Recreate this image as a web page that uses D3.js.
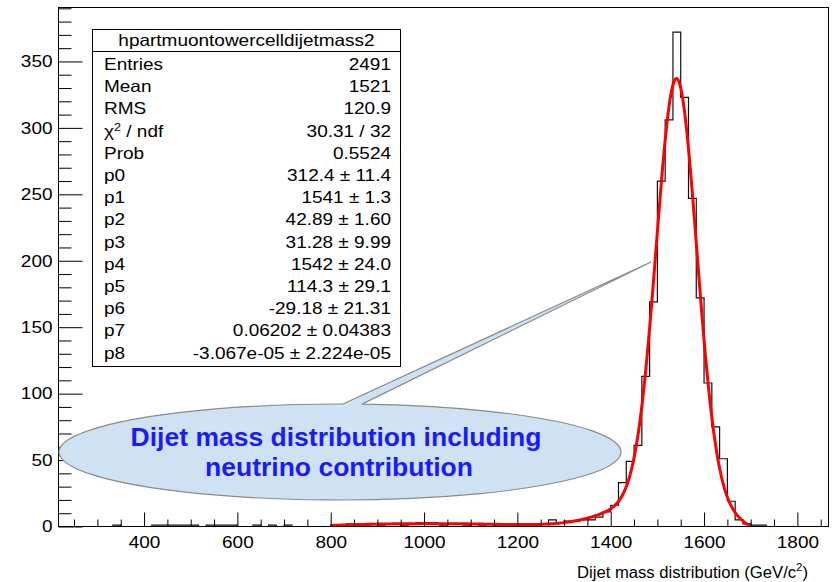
<!DOCTYPE html>
<html>
<head>
<meta charset="utf-8">
<script src="https://cdn.jsdelivr.net/npm/d3@7"></script>
<style>
  body { margin: 0; background: #fff; }
  svg { display: block; font-family: "Liberation Sans", Arial, Helvetica, sans-serif; }
</style>
</head>
<body>
<svg id="chart" width="836" height="582"></svg>
<script>
// ---- Histogram: 120 bins over 0–2000 GeV/c², bins 13..111 shown ----
const binWidth = 2000 / 120;
const firstBin = 13;
const lastEdgeBin = 112;
const counts = [
  0, 0, 0, 0, 0, 0, 0, 1, 0, 0, 0, 0,          // 216.7 – 416.7
  1, 1, 1, 1, 1, 1, 0, 1, 1, 1, 1, 0, 0,       // 416.7 – 633.3
  1, 0, 1, 0, 1, 0, 0, 0, 0, 0,                // 633.3 – 800
  1, 0, 2, 1, 1, 2, 1, 2, 2, 1, 2, 3, 2, 2,    // 800 – 1033.3
  1, 2, 2, 1, 2, 1, 2, 1, 0, 1, 2, 0, 0, 0,    // 1033.3 – 1266.7
  5, 3, 4, 4, 5, 5, 7, 11, 16, 33, 49, 61,     // 1266.7 – 1466.7
  113, 169, 260, 306, 372, 323, 247, 172,      // 1466.7 – 1600
  108, 75, 51, 19, 5, 2, 1, 1,                 // 1600 – 1733.3
  0, 0, 0, 0, 0, 0, 0, 0                       // 1733.3 – 1866.7
];
const yMax = 390.6;

// Fit: gaus(p0,p1,p2) + gaus(p3,p4,p5) + pol2(p6,p7,p8)
const fitParams = [312.4, 1541, 42.89, 31.28, 1542, 114.3, -29.18, 0.06202, -3.067e-05];
const fitRange = [800, 1700];

// Axis ticks
const xMajorTicks = [400, 600, 800, 1000, 1200, 1400, 1600, 1800];
const xMinorTicks = [250, 300, 350, 450, 500, 550, 650, 700, 750, 850, 900, 950,
                     1050, 1100, 1150, 1250, 1300, 1350, 1450, 1500, 1550, 1650, 1700, 1750, 1850];
const yMajorTicks = [0, 50, 100, 150, 200, 250, 300, 350];
const yMinorTicks = d3.range(10, 391, 10).filter(v => v % 50 !== 0);

// Statistics box
const statsTitle = "hpartmuontowercelldijetmass2";
const statsLabels = ["Entries", "Mean", "RMS", "χ2 / ndf", "Prob", "p0", "p1", "p2", "p3", "p4", "p5", "p6", "p7", "p8"];
const statsValues = ["2491", "1521", "120.9", "30.31 / 32", "0.5524",
  "312.4 ± 11.4", "1541 ± 1.3", "42.89 ± 1.60", "31.28 ± 9.99", "1542 ± 24.0",
  "114.3 ± 29.1", "-29.18 ± 21.31", "0.06202 ± 0.04383", "-3.067e-05 ± 2.224e-05"];

const xTitle = "Dijet mass distribution (GeV/c";
const calloutLines = ["Dijet mass distribution including", "neutrino contribution"];

// ---- Layout ----
const frame = { left: 58.5, right: 828.5, top: 7.5, bottom: 526.5 };
const svg = d3.select("#chart");

const x = d3.scaleLinear().domain([firstBin * binWidth, lastEdgeBin * binWidth]).range([frame.left, frame.right]);
const y = d3.scaleLinear().domain([0, yMax]).range([frame.bottom, frame.top]);

const rootStretch = 1.15;
function stretch(sel, k) {
  sel.each(function () {
    const w = this.getComputedTextLength();
    this.setAttribute("textLength", w * k);
    this.setAttribute("lengthAdjust", "spacingAndGlyphs");
  });
}

svg.append("defs").append("clipPath").attr("id", "frameClip")
  .append("rect")
  .attr("x", frame.left).attr("y", frame.top)
  .attr("width", frame.right - frame.left).attr("height", frame.bottom - frame.top);

// Histogram outline
const histPts = [];
counts.forEach((c, i) => {
  const lo = (firstBin + i) * binWidth, hi = lo + binWidth;
  histPts.push([lo, c], [hi, c]);
});
svg.append("path")
  .attr("clip-path", "url(#frameClip)")
  .attr("d", d3.line().x(d => x(d[0])).y(d => y(d[1]))(histPts))
  .attr("fill", "none").attr("stroke", "#111").attr("stroke-width", 1.2);

// Fit curve
function fitFn(v) {
  const p = fitParams;
  const g1 = p[0] * Math.exp(-0.5 * Math.pow((v - p[1]) / p[2], 2));
  const g2 = p[3] * Math.exp(-0.5 * Math.pow((v - p[4]) / p[5], 2));
  return g1 + g2 + p[6] + p[7] * v + p[8] * v * v;
}
const nFit = 300;
const fitPts = d3.range(nFit + 1).map(i => {
  const v = fitRange[0] + (fitRange[1] - fitRange[0]) * i / nFit;
  return [v, fitFn(v)];
});
svg.append("path")
  .attr("clip-path", "url(#frameClip)")
  .attr("d", d3.line().x(d => x(d[0])).y(d => y(d[1])).curve(d3.curveLinear)(fitPts))
  .attr("fill", "none").attr("stroke", "#ff0000").attr("stroke-width", 3)
  .attr("stroke-linejoin", "round");

// Frame
svg.append("rect")
  .attr("x", frame.left).attr("y", frame.top)
  .attr("width", frame.right - frame.left).attr("height", frame.bottom - frame.top)
  .attr("fill", "none").attr("stroke", "#000").attr("stroke-width", 1);

// Axes (ticks inside the frame)
const axisFont = 16.5;
const gx = svg.append("g").attr("transform", `translate(0,${frame.bottom})`)
  .call(d3.axisBottom(x).tickValues(xMajorTicks).tickSize(-14).tickSizeOuter(0).tickPadding(10).tickFormat(d3.format("d")));
svg.append("g").attr("transform", `translate(0,${frame.bottom})`)
  .call(d3.axisBottom(x).tickValues(xMinorTicks).tickSize(-7).tickSizeOuter(0).tickFormat(""));
const gy = svg.append("g").attr("transform", `translate(${frame.left},0)`)
  .call(d3.axisLeft(y).tickValues(yMajorTicks).tickSize(-24).tickSizeOuter(0).tickPadding(6).tickFormat(d3.format("d")));
svg.append("g").attr("transform", `translate(${frame.left},0)`)
  .call(d3.axisLeft(y).tickValues(yMinorTicks).tickSize(-13).tickSizeOuter(0).tickFormat(""));

svg.selectAll(".domain").remove();
svg.selectAll(".tick line").attr("stroke", "#000").attr("stroke-width", 1);
svg.selectAll(".tick text")
  .attr("font-family", "Liberation Sans, Arial, sans-serif")
  .attr("font-size", axisFont).attr("fill", "#000");
stretch(gx.selectAll(".tick text"), rootStretch);
stretch(gy.selectAll(".tick text"), rootStretch);

// X axis title (right aligned at the axis end)
const xt = svg.append("text")
  .attr("x", 808).attr("y", 578)
  .attr("text-anchor", "end")
  .attr("font-size", 16).attr("fill", "#000");
xt.append("tspan").text(xTitle);
xt.append("tspan").attr("font-size", 11).attr("dy", -7).text("2");
xt.append("tspan").attr("dy", 7).text(")");
xt.attr("textLength", 231).attr("lengthAdjust", "spacingAndGlyphs");

// Statistics box
const box = { x: 92.5, y: 29.5, w: 308, h: 337, sep: 51.5 };
const sb = svg.append("g");
sb.append("rect").attr("x", box.x).attr("y", box.y).attr("width", box.w).attr("height", box.h)
  .attr("fill", "#fff").attr("stroke", "#000").attr("stroke-width", 1);
sb.append("line").attr("x1", box.x).attr("x2", box.x + box.w).attr("y1", box.sep).attr("y2", box.sep)
  .attr("stroke", "#000").attr("stroke-width", 1);
const statFont = 16.5;
const tt = sb.append("text").attr("x", box.x + box.w / 2).attr("y", 46)
  .attr("text-anchor", "middle").attr("font-size", statFont).text(statsTitle);
stretch(tt, rootStretch);
const rowY = i => 64 + i * 22.2 + 6;
statsLabels.forEach((lab, i) => {
  const t = sb.append("text").attr("x", 104).attr("y", rowY(i)).attr("font-size", statFont);
  if (lab.startsWith("χ2")) {
    t.append("tspan").text("χ");
    t.append("tspan").attr("font-size", 11).attr("dy", -6).text("2");
    t.append("tspan").attr("dy", 6).text(" / ndf");
  } else {
    t.text(lab);
  }
  stretch(t, rootStretch);
  const v = sb.append("text").attr("x", 391).attr("y", rowY(i))
    .attr("text-anchor", "end").attr("font-size", statFont).text(statsValues[i]);
  stretch(v, rootStretch);
});

// Oval callout with a pointer towards the peak flank
const ell = { cx: 340, cy: 452, rx: 281, ry: 48 };
const baseA = 343, baseB = 362;
const ey = xx => ell.cy - ell.ry * Math.sqrt(1 - Math.pow((xx - ell.cx) / ell.rx, 2));
const tip = [651, 262];
const calloutPath = `M${baseA},${ey(baseA)} L${tip[0]},${tip[1]} L${baseB},${ey(baseB)} ` +
  `A${ell.rx},${ell.ry} 0 1 1 ${baseA},${ey(baseA)} Z`;
svg.append("path").attr("d", calloutPath)
  .attr("fill", "#cfe2f3").attr("stroke", "#8a8a8a").attr("stroke-width", 1.2);

const calloutFont = 25;
calloutLines.forEach((line, i) => {
  const t = svg.append("text")
    .attr("x", i === 0 ? 336 : 339).attr("y", i === 0 ? 446 : 476)
    .attr("text-anchor", "middle")
    .attr("font-size", calloutFont).attr("font-weight", "bold")
    .attr("fill", "#1a1aff").text(line);
  stretch(t, 1.06);
});
</script>
</body>
</html>
